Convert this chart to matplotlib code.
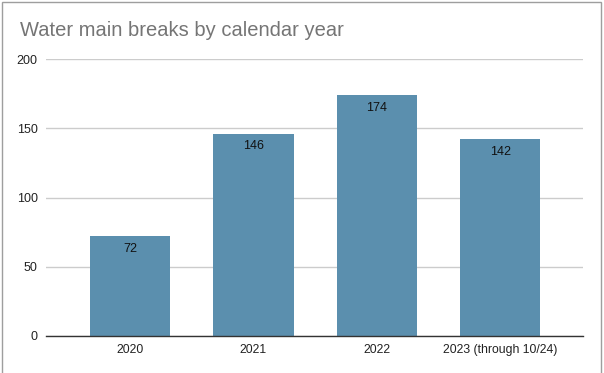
import matplotlib.pyplot as plt
from matplotlib.patches import Rectangle

years = ['2020', '2021', '2022', '2023 (through 10/24)']
breaks = [72, 146, 174, 142]
yticks = [0, 50, 100, 150, 200]

plt.rcParams['font.family'] = ['Liberation Sans', 'DejaVu Sans']

fig = plt.figure(figsize=(6.04, 3.73), dpi=100)
ax = fig.add_axes([46 / 604, 1 - 336 / 373, (583 - 46) / 604, (336 - 59) / 373])

x = list(range(len(years)))
bars = ax.bar(x, breaks, width=0.65, color='#5b8fae', zorder=3)
for b, v in zip(bars, breaks):
    ax.annotate(str(v), (b.get_x() + b.get_width() / 2, v), xytext=(0, -9),
                textcoords='offset points', ha='center', va='center',
                fontsize=9, color='#111111', zorder=4)

ax.set_xlim(-0.68, 3.67)
ax.set_ylim(0, 200)
ax.set_xticks(x)
ax.set_xticklabels(years, fontsize=8.8, color='#222222')
ax.set_yticks(yticks)
ax.set_yticklabels([str(t) for t in yticks], fontsize=9, color='#222222')
ax.tick_params(axis='both', length=0, pad=6)
ax.grid(axis='y', color='#cccccc', linewidth=1, zorder=0)
for s in ['top', 'right', 'left']:
    ax.spines[s].set_visible(False)
ax.spines['bottom'].set_color('#333333')
ax.spines['bottom'].set_linewidth(1)
ax.spines['bottom'].set_zorder(5)

fig.text(20 / 604, 1 - 31 / 373, 'Water main breaks by calendar year',
         fontsize=14.5, color='#757575', va='center', ha='left')

# chart frame
fig.patches.append(Rectangle((2 / 604, -0.01), (601 - 2) / 604, 1 - 2 / 373 + 0.01,
                             transform=fig.transFigure, fill=False,
                             edgecolor='#9e9e9e', linewidth=1))

fig.savefig('out.png', dpi=100)
